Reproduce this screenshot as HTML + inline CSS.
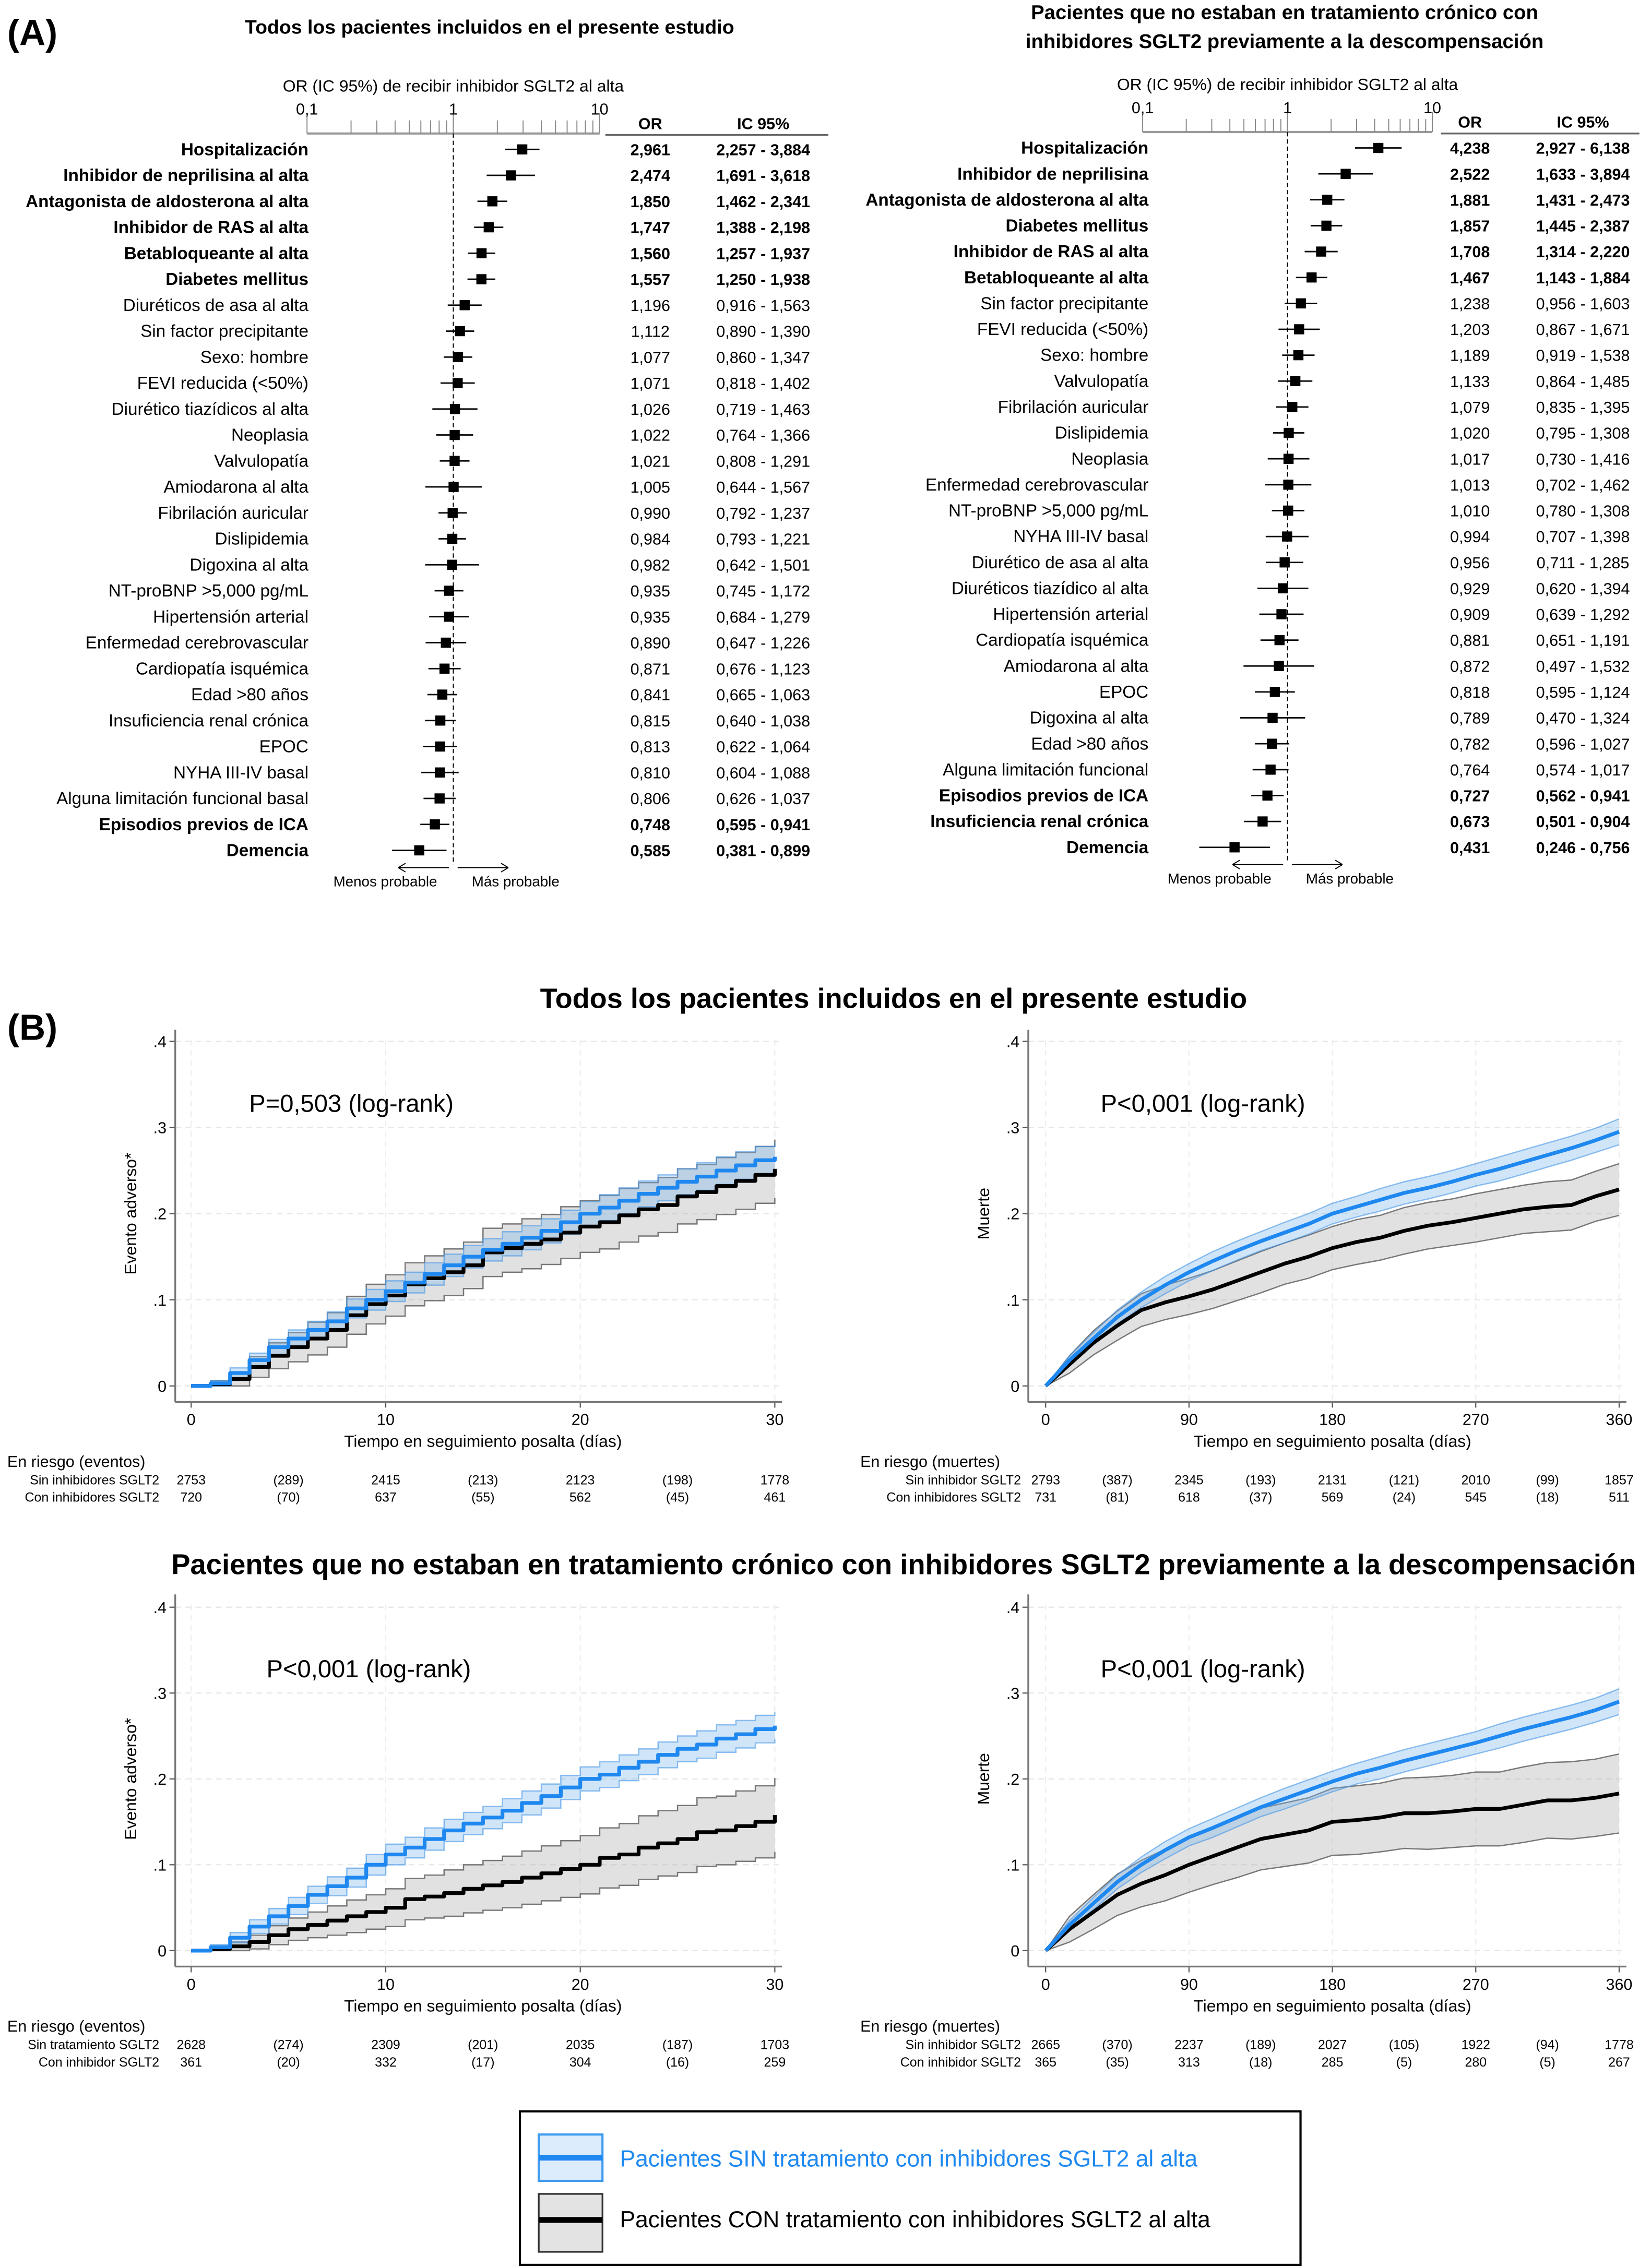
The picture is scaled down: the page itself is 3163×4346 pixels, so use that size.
<!DOCTYPE html>
<html><head><meta charset="utf-8">
<style>
html,body{margin:0;padding:0;background:#fff;}
svg{display:block;font-family:"Liberation Sans",sans-serif;}
</style></head>
<body>
<svg id="root" width="3163" height="4346" viewBox="0 0 1140 1566" xmlns="http://www.w3.org/2000/svg">
<rect x="0" y="0" width="1140" height="1566" fill="#fff"/>
<text x="5" y="31" font-size="25" font-weight="bold">(A)</text>
<text x="5" y="718" font-size="25" font-weight="bold">(B)</text>
<text x="338" y="23" font-size="13.5" font-weight="bold" text-anchor="middle">Todos los pacientes incluidos en el presente estudio</text>
<text x="887" y="13" font-size="13.8" font-weight="bold" text-anchor="middle">Pacientes que no estaban en tratamiento crónico con</text>
<text x="887" y="33" font-size="13.8" font-weight="bold" text-anchor="middle">inhibidores SGLT2 previamente a la descompensación</text>
<text x="617" y="696" font-size="19.5" font-weight="bold" text-anchor="middle">Todos los pacientes incluidos en el presente estudio</text>
<text x="624" y="1087" font-size="19.6" font-weight="bold" text-anchor="middle">Pacientes que no estaban en tratamiento crónico con inhibidores SGLT2 previamente a la descompensación</text>

<g>
<rect x="359" y="1458" width="539" height="106" fill="#fff" stroke="#000" stroke-width="1.5"/>
<rect x="372" y="1474" width="44" height="32" fill="#ddecfc" stroke="#3f9bf0" stroke-width="1.5"/>
<line x1="372" y1="1490" x2="416" y2="1490" stroke="#1e88f0" stroke-width="4"/>
<text x="428" y="1496" font-size="16" fill="#1e88f0">Pacientes SIN tratamiento con inhibidores SGLT2 al alta</text>
<rect x="372" y="1515" width="44" height="40" fill="#e3e3e3" stroke="#333" stroke-width="1.2"/>
<line x1="372" y1="1533" x2="416" y2="1533" stroke="#000" stroke-width="4"/>
<text x="428" y="1538" font-size="16" fill="#000">Pacientes CON tratamiento con inhibidores SGLT2 al alta</text>
</g>
</svg>
<script>
// ---------- Forest data ----------
const leftLabels=["Hospitalización","Inhibidor de neprilisina al alta","Antagonista de aldosterona al alta","Inhibidor de RAS al alta","Betabloqueante al alta","Diabetes mellitus","Diuréticos de asa al alta","Sin factor precipitante","Sexo: hombre","FEVI reducida (<50%)","Diurético tiazídicos al alta","Neoplasia","Valvulopatía","Amiodarona al alta","Fibrilación auricular","Dislipidemia","Digoxina al alta","NT-proBNP >5,000 pg/mL","Hipertensión arterial","Enfermedad cerebrovascular","Cardiopatía isquémica","Edad >80 años","Insuficiencia renal crónica","EPOC","NYHA III-IV basal","Alguna limitación funcional basal","Episodios previos de ICA","Demencia"];
const leftOR=[2.961,2.474,1.850,1.747,1.560,1.557,1.196,1.112,1.077,1.071,1.026,1.022,1.021,1.005,0.990,0.984,0.982,0.935,0.935,0.890,0.871,0.841,0.815,0.813,0.810,0.806,0.748,0.585];
const leftLo=[2.257,1.691,1.462,1.388,1.257,1.250,0.916,0.890,0.860,0.818,0.719,0.764,0.808,0.644,0.792,0.793,0.642,0.745,0.684,0.647,0.676,0.665,0.640,0.622,0.604,0.626,0.595,0.381];
const leftHi=[3.884,3.618,2.341,2.198,1.937,1.938,1.563,1.390,1.347,1.402,1.463,1.366,1.291,1.567,1.237,1.221,1.501,1.172,1.279,1.226,1.123,1.063,1.038,1.064,1.088,1.037,0.941,0.899];
const leftBold=[1,1,1,1,1,1,0,0,0,0,0,0,0,0,0,0,0,0,0,0,0,0,0,0,0,0,1,1];

const rightLabels=["Hospitalización","Inhibidor de neprilisina","Antagonista de aldosterona al alta","Diabetes mellitus","Inhibidor de RAS al alta","Betabloqueante al alta","Sin factor precipitante","FEVI reducida (<50%)","Sexo: hombre","Valvulopatía","Fibrilación auricular","Dislipidemia","Neoplasia","Enfermedad cerebrovascular","NT-proBNP >5,000 pg/mL","NYHA III-IV basal","Diurético de asa al alta","Diuréticos tiazídico al alta","Hipertensión arterial","Cardiopatía isquémica","Amiodarona al alta","EPOC","Digoxina al alta","Edad >80 años","Alguna limitación funcional","Episodios previos de ICA","Insuficiencia renal crónica","Demencia"];
const rightOR=[4.238,2.522,1.881,1.857,1.708,1.467,1.238,1.203,1.189,1.133,1.079,1.02,1.017,1.013,1.01,0.994,0.956,0.929,0.909,0.881,0.872,0.818,0.789,0.782,0.764,0.727,0.673,0.431];
const rightLo=[2.927,1.633,1.431,1.445,1.314,1.143,0.956,0.867,0.919,0.864,0.835,0.795,0.730,0.702,0.780,0.707,0.711,0.620,0.639,0.651,0.497,0.595,0.470,0.596,0.574,0.562,0.501,0.246];
const rightHi=[6.138,3.894,2.473,2.387,2.220,1.884,1.603,1.671,1.538,1.485,1.395,1.308,1.416,1.462,1.308,1.398,1.285,1.394,1.292,1.191,1.532,1.124,1.324,1.027,1.017,0.941,0.904,0.756];
const rightBold=[1,1,1,1,1,1,0,0,0,0,0,0,0,0,0,0,0,0,0,0,0,0,0,0,0,1,1,1];

// ---------- KM data ----------
const days30=[0,1,2,3,4,5,6,7,8,9,10,11,12,13,14,15,16,17,18,19,20,21,22,23,24,25,26,27,28,29,30];
const days360=[0,15,30,45,60,75,90,105,120,135,150,165,180,195,210,225,240,255,270,285,300,315,330,345,360];
const xTicks30=[0,10,20,30];
const xTicks360=[0,90,180,270,360];
const yTicks=[0,0.1,0.2,0.3,0.4];
const yTickLabels=["0",".1",".2",".3",".4"];

const tlBlue=[0,.003,.015,.03,.045,.055,.065,.075,.09,.1,.11,.12,.13,.14,.15,.158,.165,.172,.18,.19,.2,.207,.215,.223,.23,.237,.243,.25,.256,.262,.266];
const tlBlueCI=[0,.003,.006,.008,.009,.01,.01,.011,.011,.012,.012,.012,.013,.013,.013,.013,.014,.014,.014,.014,.014,.015,.015,.015,.015,.015,.016,.016,.016,.016,.016];
const tlBlack=[0,.002,.008,.022,.035,.045,.055,.065,.082,.095,.105,.118,.125,.132,.14,.155,.16,.165,.17,.178,.185,.19,.198,.205,.21,.22,.225,.232,.238,.245,.252];
const tlBlackCI=[0,.004,.008,.012,.015,.017,.019,.02,.022,.023,.024,.025,.026,.027,.027,.028,.028,.029,.029,.03,.03,.031,.031,.031,.032,.032,.032,.033,.033,.033,.034];

const trBlue=[0,.03,.055,.08,.1,.117,.132,.145,.157,.168,.178,.188,.2,.208,.216,.224,.23,.237,.245,.252,.26,.268,.276,.285,.295];
const trBlueCI=[0,.005,.007,.008,.009,.01,.01,.011,.011,.011,.012,.012,.012,.012,.013,.013,.013,.013,.013,.014,.014,.014,.014,.014,.015];
const trBlack=[0,.025,.05,.07,.088,.097,.104,.112,.122,.132,.142,.15,.16,.167,.172,.18,.186,.19,.195,.2,.205,.208,.21,.22,.228];
const trBlackCI=[0,.01,.014,.017,.019,.02,.021,.022,.023,.024,.024,.025,.025,.026,.026,.027,.027,.027,.028,.028,.028,.029,.029,.029,.03];

const blBlue=[0,.004,.015,.028,.04,.052,.065,.075,.085,.1,.112,.12,.13,.14,.148,.155,.163,.172,.18,.19,.2,.205,.213,.22,.228,.235,.24,.247,.252,.258,.262];
const blBlueCI=[0,.003,.006,.008,.009,.01,.01,.011,.011,.012,.012,.012,.013,.013,.013,.013,.014,.014,.014,.014,.014,.015,.015,.015,.015,.015,.016,.016,.016,.016,.016];
const blBlack=[0,.002,.005,.01,.018,.025,.03,.035,.04,.045,.05,.06,.063,.067,.072,.076,.08,.085,.09,.095,.1,.108,.112,.12,.125,.13,.138,.14,.145,.15,.158];
const blBlackCI=[0,.003,.005,.008,.011,.013,.015,.017,.019,.02,.022,.024,.025,.027,.028,.029,.03,.031,.032,.033,.034,.035,.036,.037,.038,.039,.04,.04,.041,.042,.043];

const brBlue=[0,.03,.055,.08,.1,.117,.132,.143,.155,.167,.177,.187,.197,.206,.213,.221,.228,.235,.242,.25,.258,.265,.272,.28,.29];
const brBlueCI=[0,.005,.007,.008,.009,.01,.01,.011,.011,.011,.012,.012,.012,.012,.013,.013,.013,.013,.013,.014,.014,.014,.014,.014,.015];
const brBlack=[0,.025,.045,.065,.078,.088,.1,.11,.12,.13,.135,.14,.15,.152,.155,.16,.16,.162,.165,.165,.17,.175,.175,.178,.183];
const brBlackCI=[0,.015,.02,.024,.027,.03,.032,.033,.035,.036,.037,.038,.039,.04,.04,.041,.042,.042,.043,.043,.044,.044,.045,.045,.046];

const tlRiskSin=["2753","(289)","2415","(213)","2123","(198)","1778"];
const tlRiskCon=["720","(70)","637","(55)","562","(45)","461"];
const trRiskSin=["2793","(387)","2345","(193)","2131","(121)","2010","(99)","1857"];
const trRiskCon=["731","(81)","618","(37)","569","(24)","545","(18)","511"];
const blRiskSin=["2628","(274)","2309","(201)","2035","(187)","1703"];
const blRiskCon=["361","(20)","332","(17)","304","(16)","259"];
const brRiskSin=["2665","(370)","2237","(189)","2027","(105)","1922","(94)","1778"];
const brRiskCon=["365","(35)","313","(18)","285","(5)","280","(5)","267"];

const NS="http://www.w3.org/2000/svg";
const root=document.getElementById('root');
function mk(tag,attrs,parent){const e=document.createElementNS(NS,tag);for(const k in attrs)e.setAttribute(k,attrs[k]);(parent||root).appendChild(e);return e;}
function tx(x,y,s,size,anchor,parent,extra){const e=mk('text',Object.assign({x:x,y:y,'font-size':size,'text-anchor':anchor||'start'},extra||{}),parent);e.textContent=s;return e;}
function fmt(v){return v.toFixed(3).replace('.',',');}

function drawForest(c,labels,ors,los,his,bold){
  const g=mk('g',{});
  
  
  const xs=v=>c.x1+Math.log10(v)*c.dec;
  const ys=i=>c.y0+i*c.step;
  const ax=mk('line',{x1:xs(0.1),y1:c.axY,x2:xs(10),y2:c.axY,stroke:'#999','stroke-width':1.5},g);
  
  
  for(let d=0.1;d<10;d*=10){for(let m=1;m<=10;m++){const v=d*m;const x=xs(v);mk('line',{x1:x,y1:c.axY,x2:x,y2:c.axY-(m===1||m===10?14:9),stroke:'#888','stroke-width':0.7},g);}}
  [[0.1,'0,1'],[1,'1'],[10,'10']].forEach(t=>{const e=tx(xs(t[0]),c.axY-13,t[1],11,'middle',g);});
  const at=tx(xs(1),c.axY-29,'OR (IC 95%) de recibir inhibidor SGLT2 al alta',11.5,'middle',g);
  
  
  const ref=mk('line',{x1:xs(1),y1:c.axY,x2:xs(1),y2:c.y0+labels.length*c.step-8,stroke:'#000','stroke-width':0.7,'stroke-dasharray':'3,2'},g);
  
  
  const h1=tx(c.orX,c.axY-3,'OR',11,'middle',g,{'font-weight':'bold'});
  
  
  const h2=tx(c.ciX,c.axY-3,'IC 95%',11,'middle',g,{'font-weight':'bold'});
  
  
  mk('line',{x1:c.hl1,y1:c.axY+1,x2:c.hl2,y2:c.axY+1,stroke:'#666','stroke-width':1.2},g);
  labels.forEach((lab,i)=>{
    const y=ys(i);const fw=bold[i]?'bold':'normal';
    const l=tx(c.labX,y+4,lab,12,'end',g,{'font-weight':fw});
    
    
    const w=mk('line',{x1:xs(los[i]),y1:y,x2:xs(his[i]),y2:y,stroke:'#000','stroke-width':1},g);
    
    
    const s=mk('rect',{x:xs(ors[i])-3.5,y:y-3.5,width:7,height:7,fill:'#000'},g);
    
    
    const o=tx(c.orX,y+4,fmt(ors[i]),11,'middle',g,{'font-weight':fw});
    
    
    const ci=tx(c.ciX,y+4,fmt(los[i])+'  - '+fmt(his[i]),11,'middle',g,{'font-weight':fw,'xml:space':'preserve'});
    
    
  });
  const ay=c.y0+labels.length*c.step-6;
  mk('line',{x1:xs(1)-3,y1:ay,x2:xs(1)-38,y2:ay,stroke:'#000','stroke-width':0.7},g);
  mk('path',{d:`M${xs(1)-38} ${ay} l5 -3 M${xs(1)-38} ${ay} l5 3`,stroke:'#000','stroke-width':0.7,fill:'none'},g);
  mk('line',{x1:xs(1)+3,y1:ay,x2:xs(1)+38,y2:ay,stroke:'#000','stroke-width':0.7},g);
  mk('path',{d:`M${xs(1)+38} ${ay} l-5 -3 M${xs(1)+38} ${ay} l-5 3`,stroke:'#000','stroke-width':0.7,fill:'none'},g);
  const m1=tx(xs(1)-47,ay+13,'Menos probable',10,'middle',g);
  
  
  const m2=tx(xs(1)+43,ay+13,'Más probable',10,'middle',g);
  
  
}
drawForest({name:'forest-plot-all',x1:313,dec:101,y0:103,step:17.93,axY:92,labX:213,orX:449,ciX:527,hl1:418,hl2:572},leftLabels,leftOR,leftLo,leftHi,leftBold);
drawForest({name:'forest-plot-naive',x1:889,dec:100,y0:102,step:17.89,axY:91,labX:793,orX:1015,ciX:1093,hl1:995,hl2:1132},rightLabels,rightOR,rightLo,rightHi,rightBold);

function pts(xs,ys,t,v,linear){const p=[];for(let i=0;i<t.length;i++){if(i>0&&!linear)p.push([xs(t[i]),ys(v[i-1])]);p.push([xs(t[i]),ys(v[i])]);}return p;}
function pathD(p){return 'M'+p.map(q=>q[0]+' '+q[1]).join(' L');}

function drawKM(c,t,ticks,blue,blueCI,black,blackCI,riskSin,riskCon){
  const g=mk('g',{});
  
  
  const xmax=t[t.length-1];
  const xs=v=>c.x0+(v/xmax)*(c.x1-c.x0);
  const ys=v=>c.y0-v*c.ppu;
  yTicks.forEach((v,i)=>{
    const gl=mk('line',{x1:c.axX,y1:ys(v),x2:c.x1+5,y2:ys(v),stroke:'#e6e6e6','stroke-width':0.8,'stroke-dasharray':'4,3'},g);
    
    
    mk('line',{x1:c.axX-4,y1:ys(v),x2:c.axX,y2:ys(v),stroke:'#555','stroke-width':0.8},g);
    const l=tx(c.axX-6,ys(v)+4,yTickLabels[i],11,'end',g);
    
    
  });
  ticks.forEach(v=>{
    mk('line',{x1:xs(v),y1:c.y0+11-250,x2:xs(v),y2:c.axY,stroke:'#eee','stroke-width':0.8,'stroke-dasharray':'4,3'},g);
    mk('line',{x1:xs(v),y1:c.axY,x2:xs(v),y2:c.axY+4,stroke:'#555','stroke-width':0.8},g);
    const l=tx(xs(v),c.axY+16,String(v),11,'middle',g);
    
    
  });
  const ya=mk('line',{x1:c.axX,y1:c.axY-257,x2:c.axX,y2:c.axY,stroke:'#777','stroke-width':1.2},g);
  
  
  const xa=mk('line',{x1:c.axX,y1:c.axY,x2:c.x1+5,y2:c.axY,stroke:'#777','stroke-width':1.2},g);
  
  
  const xt=tx((c.x0+c.x1)/2,c.axY+31,'Tiempo en seguimiento posalta (días)',11.5,'middle',g);
  
  
  const yt=tx(0,0,c.ytitle,11.5,'middle',g,{transform:`translate(${c.axX-27},${ys(0.2)}) rotate(-90)`});
  
  
  const pv=tx(c.pX,ys(0.325)+4,c.ptext,17,'start',g);
  
  
  const lin=!!c.linear;
  function band(v,ci,fill,stroke,name){
    const up=v.map((a,i)=>a+ci[i]);const lo=v.map((a,i)=>Math.max(0,a-ci[i]));
    const pu=pts(xs,ys,t,up,lin),pl=pts(xs,ys,t,lo,lin);
    const b=mk('polygon',{points:pu.concat(pl.slice().reverse()).map(p=>p.join(',')).join(' '),fill:fill,stroke:'none'},g);
    
    
    mk('path',{d:pathD(pu),fill:'none',stroke:stroke,'stroke-width':0.9},g);
    mk('path',{d:pathD(pl),fill:'none',stroke:stroke,'stroke-width':0.9},g);
  }
  band(black,blackCI,'rgba(170,170,170,0.35)','#777','ci-band-con');
  band(blue,blueCI,'rgba(120,180,235,0.35)','rgba(70,150,230,0.6)','ci-band-sin');
  const kb=mk('path',{d:pathD(pts(xs,ys,t,black,lin)),fill:'none',stroke:'#000','stroke-width':2.6,'stroke-linejoin':'round'},g);
  
  
  const kl=mk('path',{d:pathD(pts(xs,ys,t,blue,lin)),fill:'none',stroke:'#1e88f0','stroke-width':2.6,'stroke-linejoin':'round'},g);
  
  
  const rt=tx(c.rtX,c.axY+45,c.rtTitle,11,'start',g);
  
  
  const n=riskSin.length;
  const rs1=tx(c.labR,c.axY+57,c.sinLab,9,'end',g);
  
  
  const rs2=tx(c.labR,c.axY+69,c.conLab,9,'end',g);
  
  
  for(let k=0;k<n;k++){
    const x=c.x0+k*(c.x1-c.x0)/(n-1);
    const a=tx(x,c.axY+57,riskSin[k],9,'middle',g);
    
    
    const b=tx(x,c.axY+69,riskCon[k],9,'middle',g);
    
    
  }
}
drawKM({name:'km-all-adverse',x0:132,x1:535,y0:957,ppu:595,axX:121,axY:968,ytitle:'Evento adverso*',pX:172,ptext:'P=0,503 (log-rank)',rtX:5,rtTitle:'En riesgo (eventos)',labR:110,sinLab:'Sin inhibidores SGLT2',conLab:'Con inhibidores SGLT2'},days30,xTicks30,tlBlue,tlBlueCI,tlBlack,tlBlackCI,tlRiskSin,tlRiskCon);
drawKM({name:'km-all-death',linear:true,x0:722,x1:1118,y0:957,ppu:595,axX:710,axY:968,ytitle:'Muerte',pX:760,ptext:'P<0,001 (log-rank)',rtX:594,rtTitle:'En riesgo (muertes)',labR:705,sinLab:'Sin inhibidor SGLT2',conLab:'Con inhibidores SGLT2'},days360,xTicks360,trBlue,trBlueCI,trBlack,trBlackCI,trRiskSin,trRiskCon);
drawKM({name:'km-naive-adverse',x0:132,x1:535,y0:1347,ppu:593,axX:121,axY:1358,ytitle:'Evento adverso*',pX:184,ptext:'P<0,001 (log-rank)',rtX:5,rtTitle:'En riesgo (eventos)',labR:110,sinLab:'Sin tratamiento SGLT2',conLab:'Con inhibidor SGLT2'},days30,xTicks30,blBlue,blBlueCI,blBlack,blBlackCI,blRiskSin,blRiskCon);
drawKM({name:'km-naive-death',linear:true,x0:722,x1:1118,y0:1347,ppu:593,axX:710,axY:1358,ytitle:'Muerte',pX:760,ptext:'P<0,001 (log-rank)',rtX:594,rtTitle:'En riesgo (muertes)',labR:705,sinLab:'Sin inhibidor SGLT2',conLab:'Con inhibidor SGLT2'},days360,xTicks360,brBlue,brBlueCI,brBlack,brBlackCI,brRiskSin,brRiskCon);
</script>
</body></html>
